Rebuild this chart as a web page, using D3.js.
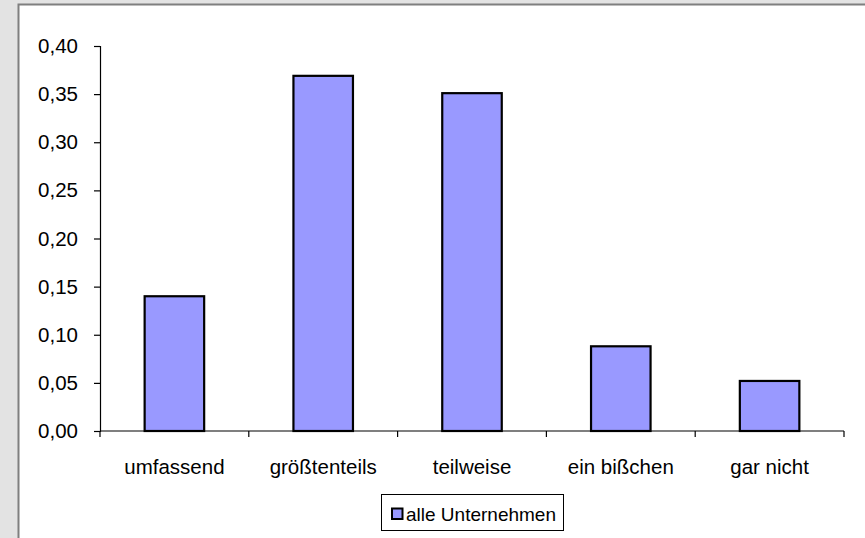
<!DOCTYPE html>
<html>
<head>
<meta charset="utf-8">
<script src="https://cdn.jsdelivr.net/npm/d3@7"></script>
<style>
  html, body { margin: 0; padding: 0; background: #e3e3e3; }
  svg { display: block; }
  text { font-family: Arial, "Liberation Sans", sans-serif; fill: #000; }
</style>
</head>
<body>
<svg id="chart" width="865" height="538"></svg>
<script>
// Anteil der Antworten je Kategorie
const categories = ["umfassend", "größtenteils", "teilweise", "ein bißchen", "gar nicht"];
const values = [0.140, 0.369, 0.351, 0.088, 0.052];
const yTicks = [0, 0.05, 0.10, 0.15, 0.20, 0.25, 0.30, 0.35, 0.40];
const seriesName = "alle Unternehmen";

const svg = d3.select("#chart");
const axisFont = 20.5;
const legendFont = 19;
const barFill = "#9999ff";

// Chart frame (white panel with grey border)
svg.append("rect")
  .attr("x", 18.5).attr("y", 4.5)
  .attr("width", 900).attr("height", 600)
  .attr("fill", "#ffffff")
  .attr("stroke", "#7f7f7f")
  .attr("stroke-width", 2);

const plot = { left: 100, right: 844, top: 46, bottom: 431 };

const x = d3.scaleBand()
  .domain(categories)
  .range([plot.left, plot.right])
  .paddingInner(0.6)
  .paddingOuter(0.3);

const xEdge = d3.scaleLinear()
  .domain([0, categories.length])
  .range([plot.left, plot.right]);

const y = d3.scaleLinear()
  .domain([0, 0.40])
  .range([plot.bottom, plot.top]);

const fmt = v => d3.format(".2f")(v).replace(".", ",");

// Y axis
const yAxis = svg.append("g")
  .attr("transform", `translate(${plot.left},0)`)
  .call(d3.axisLeft(y).tickValues(yTicks).tickFormat(fmt).tickSize(6).tickPadding(16));
yAxis.select(".domain").attr("stroke", "#000").attr("stroke-width", 1.2);
yAxis.selectAll(".tick line").attr("stroke", "#000").attr("stroke-width", 1.2);
yAxis.selectAll("text")
  .style("font-family", "Arial, 'Liberation Sans', sans-serif")
  .style("font-size", axisFont + "px")
  .attr("fill", "#000");

// Bars
svg.append("g")
  .selectAll("rect")
  .data(values)
  .join("rect")
  .attr("x", (d, i) => x(categories[i]))
  .attr("width", x.bandwidth())
  .attr("y", d => y(d))
  .attr("height", d => y(0) - y(d))
  .attr("fill", barFill)
  .attr("stroke", "#000")
  .attr("stroke-width", 2.2);

// X axis with ticks at category boundaries
const xAxisG = svg.append("g");
xAxisG.append("line")
  .attr("x1", plot.left).attr("x2", plot.right)
  .attr("y1", y(0)).attr("y2", y(0))
  .attr("stroke", "#000").attr("stroke-width", 1.2);
xAxisG.selectAll("line.tick")
  .data(d3.range(categories.length + 1))
  .join("line")
  .attr("class", "tick")
  .attr("x1", d => xEdge(d)).attr("x2", d => xEdge(d))
  .attr("y1", y(0)).attr("y2", y(0) + 6)
  .attr("stroke", "#000").attr("stroke-width", 1.2);
xAxisG.selectAll("text")
  .data(categories)
  .join("text")
  .attr("x", d => x(d) + x.bandwidth() / 2)
  .attr("y", 474)
  .attr("text-anchor", "middle")
  .style("font-size", axisFont + "px")
  .text(d => d);

// Legend
const legend = svg.append("g");
legend.append("rect")
  .attr("x", 381.5).attr("y", 494.5)
  .attr("width", 182).attr("height", 36)
  .attr("fill", "#fff")
  .attr("stroke", "#000")
  .attr("stroke-width", 1);
legend.append("rect")
  .attr("x", 392).attr("y", 508.5)
  .attr("width", 10.5).attr("height", 10.5)
  .attr("fill", barFill)
  .attr("stroke", "#000")
  .attr("stroke-width", 2);
legend.append("text")
  .attr("x", 406).attr("y", 521)
  .style("font-size", legendFont + "px")
  .text(seriesName);
</script>
</body>
</html>
